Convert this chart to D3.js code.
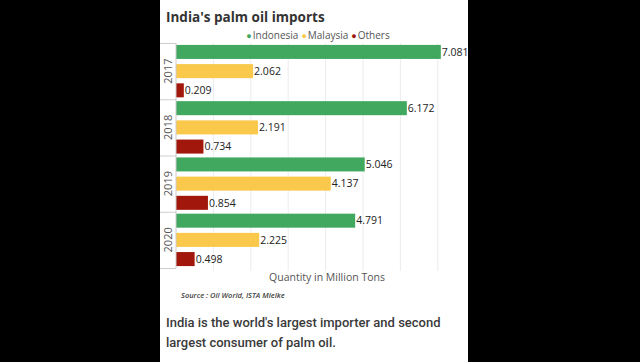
<!DOCTYPE html>
<html>
<head>
<meta charset="utf-8">
<script src="https://cdn.jsdelivr.net/npm/d3@7"></script>
<style>
  html, body { margin: 0; padding: 0; background: #000; }
  svg { display: block; }
</style>
</head>
<body>
<script>
// data
const years = ["2017", "2018", "2019", "2020"];
const seriesNames = ["Indonesia", "Malaysia", "Others"];
const indonesia = [7.081, 6.172, 5.046, 4.791];
const malaysia = [2.062, 2.191, 4.137, 2.225];
const others = [0.209, 0.734, 0.854, 0.498];
const colors = ["#41a85f", "#fac84a", "#a1170c"];

const W = 640, H = 362;
const panel = { x: 160, w: 308 };
const plot = { left: 176, top: 43, bottom: 268 };

const svg = d3.select("body").append("svg")
    .attr("width", W).attr("height", H);

svg.append("rect")
    .attr("x", panel.x).attr("y", 0)
    .attr("width", panel.w).attr("height", H)
    .attr("fill", "#fff");

svg.append("clipPath").attr("id", "panel")
  .append("rect").attr("x", panel.x).attr("y", 0).attr("width", panel.w).attr("height", H);

const g = svg.append("g").attr("clip-path", "url(#panel)");

// scales
const x = d3.scaleLinear().domain([0, 7]).range([plot.left, 437.8]);
const y = d3.scaleBand().domain(years).range([plot.top, plot.bottom]);
const ySub = d3.scaleBand().domain(seriesNames).range([0, y.bandwidth()])
    .paddingInner(0.27).paddingOuter(0.1);

// grid lines
g.append("g")
  .selectAll("line")
  .data(d3.range(1, 9))
  .join("line")
    .attr("x1", d => x(d)).attr("x2", d => x(d))
    .attr("y1", plot.top).attr("y2", plot.bottom + 3)
    .attr("stroke", "#ececec").attr("stroke-width", 1);

// title
svg.append("text")
    .attr("x", 166).attr("y", 22)
    .attr("font-family", "Open Sans").attr("font-weight", 700)
    .attr("font-size", 13.5).attr("fill", "#333")
    .text("India's palm oil imports");

// legend
const legend = svg.append("text")
    .attr("x", 318).attr("y", 39)
    .attr("text-anchor", "middle")
    .attr("font-family", "Open Sans").attr("font-size", 10).attr("fill", "#555");
seriesNames.forEach((s, i) => {
  legend.append("tspan").attr("fill", colors[i]).attr("font-size", 9)
      .attr("dx", i ? 3 : 0).text("\u25CF");
  legend.append("tspan").attr("dx", 1).text(s);
});

// bars
const rows = years.map((yr, i) => ({
  year: yr,
  values: [indonesia[i], malaysia[i], others[i]]
}));

const band = g.append("g").selectAll("g")
  .data(rows)
  .join("g")
    .attr("transform", d => `translate(0,${y(d.year)})`);

const bars = band.selectAll("g")
  .data(d => d.values.map((v, i) => ({ name: seriesNames[i], value: v, i })))
  .join("g");

bars.append("rect")
    .attr("x", x(0))
    .attr("y", d => ySub(d.name))
    .attr("width", d => x(d.value) - x(0))
    .attr("height", ySub.bandwidth())
    .attr("fill", d => colors[d.i]);

bars.append("text")
    .attr("x", d => x(d.value) + 1)
    .attr("y", d => ySub(d.name) + ySub.bandwidth() / 2)
    .attr("dy", "0.36em")
    .attr("font-family", "Open Sans").attr("font-size", 10.5).attr("fill", "#222")
    .text(d => d.value.toFixed(3));

// y axis
const yAxis = svg.append("g");
yAxis.append("line")
    .attr("x1", plot.left).attr("x2", plot.left)
    .attr("y1", plot.top).attr("y2", plot.bottom)
    .attr("stroke", "#ccc");
yAxis.selectAll("line.sep")
  .data(years.map(d => y(d)).concat([plot.bottom]))
  .join("line")
    .attr("class", "sep")
    .attr("x1", panel.x).attr("x2", plot.left)
    .attr("y1", d => d + 0.5).attr("y2", d => d + 0.5)
    .attr("stroke", "#ccc");
yAxis.selectAll("text")
  .data(years)
  .join("text")
    .attr("transform", d => `translate(172,${y(d) + y.bandwidth() / 2}) rotate(-90)`)
    .attr("text-anchor", "middle")
    .attr("font-family", "Open Sans").attr("font-size", 11).attr("fill", "#555")
    .text(d => d);

// x axis title
svg.append("text")
    .attr("x", 327).attr("y", 281)
    .attr("text-anchor", "middle")
    .attr("font-family", "Open Sans").attr("font-size", 10.5).attr("fill", "#555")
    .text("Quantity in Million Tons");

// source
svg.append("text")
    .attr("x", 181).attr("y", 298)
    .attr("font-family", "Open Sans").attr("font-style", "italic").attr("font-weight", 600)
    .attr("font-size", 7.5).attr("fill", "#444")
    .text("Source : Oil World, ISTA Mielke");

// caption
const caption = ["India is the world's largest importer and second",
                 "largest consumer of palm oil."];
svg.append("g").selectAll("text")
  .data(caption)
  .join("text")
    .attr("x", 166).attr("y", (d, i) => 327 + i * 20)
    .attr("font-family", "Roboto").attr("font-weight", 500)
    .attr("font-size", 13).attr("fill", "#3a3a3a")
    .text(d => d);
</script>
</body>
</html>
